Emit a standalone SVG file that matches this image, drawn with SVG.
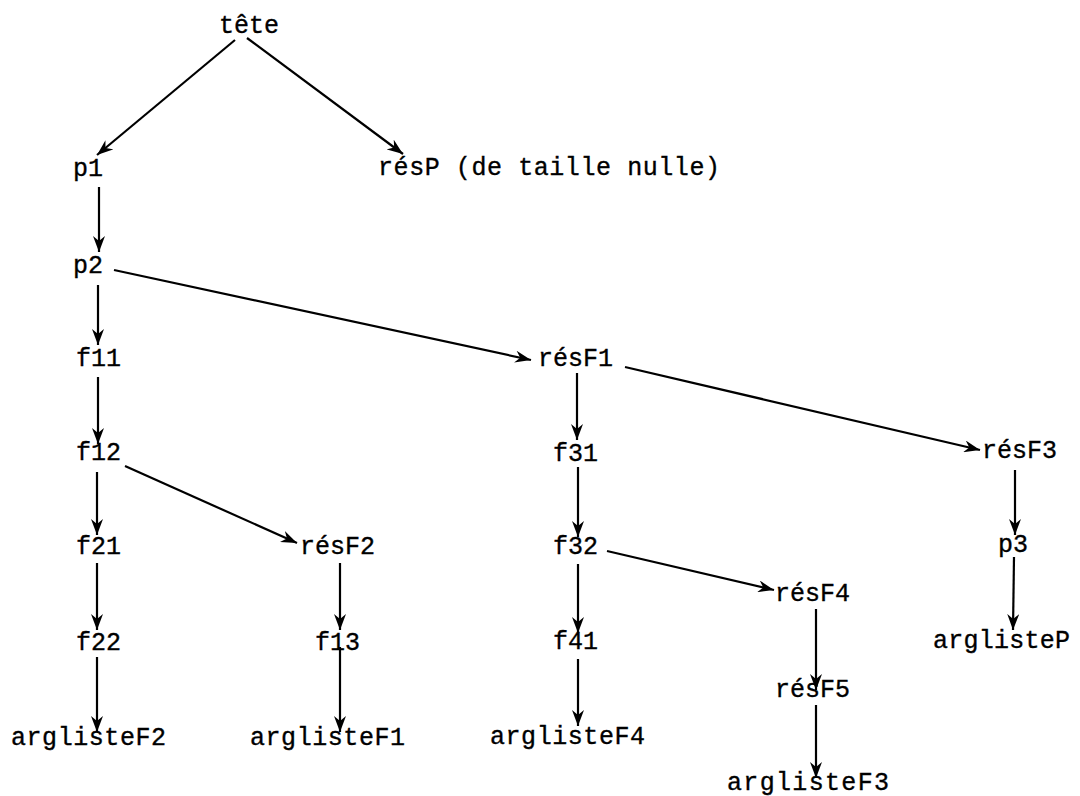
<svg xmlns="http://www.w3.org/2000/svg" width="1080" height="796" viewBox="0 0 1080 796">
<style>
text{font-family:"Liberation Mono","DejaVu Sans Mono",monospace;font-size:25px;fill:#000;stroke:#000;stroke-width:0.35}
.c line{stroke:#000;stroke-width:2.2;marker-end:url(#ah)}
</style>
<defs>
<marker id="ah" markerUnits="userSpaceOnUse" viewBox="0 0 16 12" refX="16" refY="6" markerWidth="16" markerHeight="12" orient="auto">
<path d="M0,0 L16,6 L0,12 L5,6 z" fill="#000"/>
</marker>
</defs>
<rect width="1080" height="796" fill="#fff"/>
<g class="c" id="connectors">
<line x1="235" y1="40" x2="97" y2="155"/>
<line x1="247" y1="38" x2="403" y2="154"/>
<line x1="99" y1="187" x2="99" y2="252"/>
<line x1="114" y1="270" x2="531" y2="360"/>
<line x1="98" y1="285" x2="98" y2="345"/>
<line x1="98" y1="377" x2="98" y2="444"/>
<line x1="97" y1="472" x2="97" y2="535"/>
<line x1="125" y1="466" x2="297" y2="543"/>
<line x1="97" y1="563" x2="97" y2="630"/>
<line x1="97" y1="657" x2="97" y2="732"/>
<line x1="340" y1="563" x2="340" y2="630"/>
<line x1="340" y1="647" x2="340" y2="732"/>
<line x1="577" y1="373" x2="577" y2="440"/>
<line x1="625" y1="367" x2="980" y2="450"/>
<line x1="578" y1="467" x2="578" y2="537"/>
<line x1="578" y1="564" x2="578" y2="633"/>
<line x1="607" y1="551" x2="774" y2="590"/>
<line x1="578" y1="659" x2="578" y2="726"/>
<line x1="816" y1="609" x2="816" y2="690"/>
<line x1="816" y1="705" x2="816" y2="778"/>
<line x1="1015" y1="470" x2="1015" y2="535"/>
<line x1="1014" y1="557" x2="1013" y2="630"/>
</g>
<g id="tete"><text x="219" y="33">tête</text></g>
<g id="p1"><text x="73" y="176">p1</text></g>
<g id="resP"><text x="378" y="175" textLength="342" lengthAdjust="spacing">résP (de taille nulle)</text></g>
<g id="p2"><text x="73" y="273">p2</text></g>
<g id="f11"><text x="76" y="366">f11</text></g>
<g id="resF1"><text x="538" y="366">résF1</text></g>
<g id="f12"><text x="76" y="460">f12</text></g>
<g id="f31"><text x="553" y="461">f31</text></g>
<g id="resF3"><text x="982" y="458">résF3</text></g>
<g id="f21"><text x="76" y="554">f21</text></g>
<g id="resF2"><text x="300" y="554">résF2</text></g>
<g id="f32"><text x="553" y="554">f32</text></g>
<g id="p3"><text x="998" y="552">p3</text></g>
<g id="resF4"><text x="775" y="601">résF4</text></g>
<g id="f22"><text x="76" y="650">f22</text></g>
<g id="f13"><text x="315" y="650">f13</text></g>
<g id="f41"><text x="553" y="649">f41</text></g>
<g id="arglisteP"><text x="933" y="648" textLength="137" lengthAdjust="spacing">arglisteP</text></g>
<g id="resF5"><text x="775" y="697">résF5</text></g>
<g id="arglisteF2"><text x="11" y="745" textLength="155" lengthAdjust="spacing">arglisteF2</text></g>
<g id="arglisteF1"><text x="250" y="745" textLength="155" lengthAdjust="spacing">arglisteF1</text></g>
<g id="arglisteF4"><text x="490" y="744" textLength="155" lengthAdjust="spacing">arglisteF4</text></g>
<g id="arglisteF3"><text x="727" y="790" textLength="162" lengthAdjust="spacing">arglisteF3</text></g>
</svg>
